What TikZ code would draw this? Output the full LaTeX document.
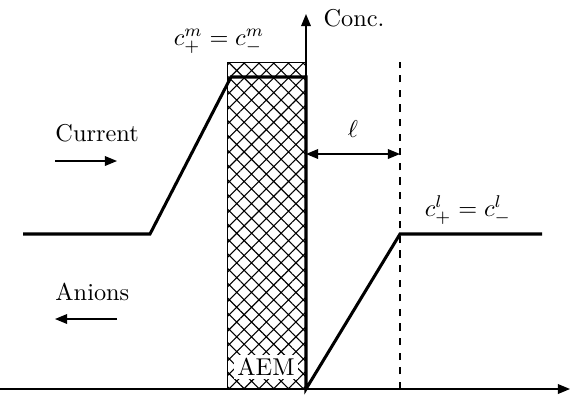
\documentclass[tikz,border=0pt]{standalone}
\usetikzlibrary{arrows.meta,patterns.meta}
\tikzset{px/.style={x=0.411pt,y=-0.411pt}}
\tikzset{axis/.style={line width=0.55pt,-{Triangle[length=5pt,width=4pt]}},
         profile/.style={line width=1.25pt,line join=miter},
         flux/.style={line width=0.55pt,-{Triangle[length=5pt,width=4pt]}},
         aem/.style={draw,line width=0.4pt,pattern={Hatch[angle=45,distance=4.3pt,line width=0.45pt]}}}

\begin{document}
\begin{tikzpicture}[px]
    \useasboundingbox (0,0) rectangle (570,396);
    % membrane
    \draw[aem] (227,62) rectangle (306,389);
    \node[fill=white,inner sep=1.5pt] (lab) at (266,367) {AEM};
    % axes
    \coordinate (o0) at (0,389);
    \coordinate (oE) at (570,389);
    \coordinate (o) at (306,389);
    \coordinate (cT) at (306,14);
    \draw[axis] (o0) -- (oE);
    \draw[axis] (o) -- (cT);
    \node[anchor=west] (conc) at (315,18) {Conc.};
    % diffusion layer edge
    \coordinate (dB) at (400,389);
    \coordinate (dT) at (400,62);
    \draw[dashed,line width=0.5pt] (dB) -- (dT);
    \coordinate (lA) at (306,154);
    \coordinate (lB) at (400,154);
    \draw[{Triangle[length=5pt,width=4pt]}-{Triangle[length=5pt,width=4pt]},line width=0.55pt] (lA) -- (lB);
    \node (ell) at (353,129) {$\ell$};
    % concentration profile
    \coordinate (p1) at (23,234);
    \coordinate (p2) at (150,234);
    \coordinate (p3) at (231,77);
    \coordinate (p4) at (306,77);
    \coordinate (p5) at (400,234);
    \coordinate (p6) at (542,234);
    \draw[profile] (p1) -- (p2) -- (p3) -- (p4) -- (o) -- (p5) -- (p6);
    \node (cm) at (219,41) {$c_+^m = c_-^m$};
    \node (cl) at (468,210) {$c_+^l = c_-^l$};
    % fluxes
    \node[anchor=west,inner sep=0pt] (cur) at (55,133) {Current};
    \coordinate (cA) at (55,161);
    \coordinate (cB) at (117,161);
    \draw[flux] (cA) -- (cB);
    \node[anchor=west,inner sep=0pt] (ani) at (55,292) {Anions};
    \coordinate (aA) at (117,319);
    \coordinate (aB) at (55,319);
    \draw[flux] (aA) -- (aB);
\end{tikzpicture}
\end{document}
